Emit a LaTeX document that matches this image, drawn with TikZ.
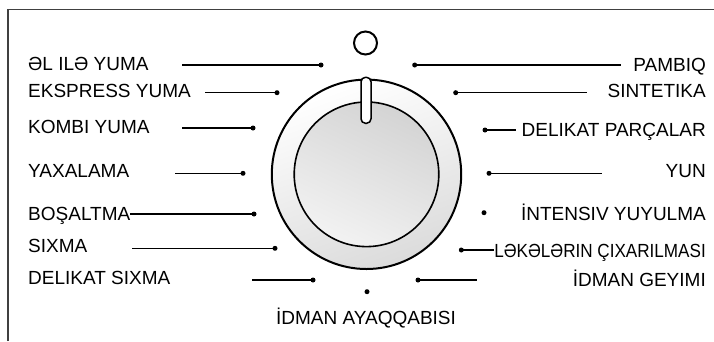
\documentclass[tikz,border=0pt]{standalone}
\usepackage{fontspec}
\setmainfont{Liberation Sans}
\begin{document}
\begin{tikzpicture}[x=1pt,y=-1pt,
  lbl/.style={inner sep=0pt,font=\fontsize{19}{21}\selectfont},
  lleft/.style={lbl,anchor=base west},
  lright/.style={lbl,anchor=base east},
  dotn/.style={circle,fill=black,inner sep=0pt,minimum size=5pt},
  lead/.style={line width=1.2pt},
  framel/.style={line width=1.5pt,draw=black!75}]
\useasboundingbox (0,0) rectangle (714,341);
% frame
\coordinate (fbl) at (8,341);
\coordinate (ftl) at (8,9.7);
\coordinate (ftr) at (714,9.7);
\draw[framel] (fbl) -- (ftl) -- (ftr);
% knob
\shade[top color=white,bottom color=black!14,shading angle=20] (366.5,174.3) circle (94.7);
\draw[line width=2pt] (366.5,174.3) coordinate (kc) circle (94.7);
\shade[top color=black!17,bottom color=black!5,shading angle=-25] (kc) circle (72.3);
\draw[line width=1.6pt] (kc) circle (72.3);
\node[draw=black,line width=1.5pt,fill=white,rounded corners=4.5pt,minimum width=10pt,minimum height=46pt,inner sep=0pt] (ind) at (366,100.3) {};
\node[draw=black,circle,line width=2pt,minimum size=23pt,inner sep=0pt] (top) at (365.5,43) {};
% left labels
\node[lleft] (t1) at (28,70) {ƏL ILƏ YUMA};
\node[lleft] (t2) at (28,97.5) {EKSPRESS YUMA};
\node[lleft] (t3) at (28,133.5) {KOMBI YUMA};
\node[lleft] (t4) at (28,177.5) {YAXALAMA};
\node[lleft] (t5) at (28,220) {BOŞALTMA};
\node[lleft] (t6) at (28,252.5) {SIXMA};
\node[lleft] (t7) at (28,284) {DELIKAT SIXMA};
\node[lbl,anchor=base] (t8) at (366,324) {İDMAN AYAQQABISI};
% left dots
\node[dotn] (d1) at (321,65) {};
\node[dotn] (d2) at (277,92.7) {};
\node[dotn] (d3) at (253,128) {};
\node[dotn] (d4) at (243,173.3) {};
\node[dotn] (d5) at (254,214) {};
\node[dotn] (d6) at (275,248.3) {};
\node[dotn] (d7) at (313,280) {};
\node[dotn] (d8) at (367,291.7) {};
\coordinate (s1) at (182,65);
\coordinate (s2) at (205,92.7);
\coordinate (s3) at (182,128);
\coordinate (s4) at (175,173.3);
\coordinate (s5) at (t5.east |- d5);
\coordinate (s6) at (132,248.3);
\coordinate (s7) at (252,280);
\foreach \i in {1,...,7}{\draw[lead] (s\i) -- (d\i.center);}
% right labels
\node[lright] (r1) at (706,71) {PAMBIQ};
\node[lright] (r2) at (706,97) {SINTETIKA};
\node[lright] (r3) at (706,136.5) {DELIKAT PARÇALAR};
\node[lright] (r4) at (706,177.5) {YUN};
\node[lright] (r5) at (706,220) {İNTENSIV YUYULMA};
\node[lright] (r6) at (706,257) {\scalebox{0.9}[1]{LƏKƏLƏRIN ÇIXARILMASI}};
\node[lright] (r7) at (706,286.5) {İDMAN GEYIMI};
% right dots
\node[dotn] (e1) at (414.7,65) {};
\node[dotn] (e2) at (455.7,92.7) {};
\node[dotn] (e3) at (485,130) {};
\node[dotn] (e4) at (489,173.3) {};
\node[dotn] (e5) at (484,212.7) {};
\node[dotn] (e6) at (461.3,250) {};
\node[dotn] (e7) at (418,280) {};
\coordinate (q1) at (620.7,65);
\coordinate (q2) at (587,92.7);
\coordinate (q3) at (515.7,130);
\coordinate (q4) at (602,173.3);
\coordinate (q6) at (r6.west |- e6);
\coordinate (q7) at (476.7,280);
\foreach \i in {1,2,3,4,6,7}{\draw[lead] (e\i.center) -- (q\i);}
\end{tikzpicture}
\end{document}
